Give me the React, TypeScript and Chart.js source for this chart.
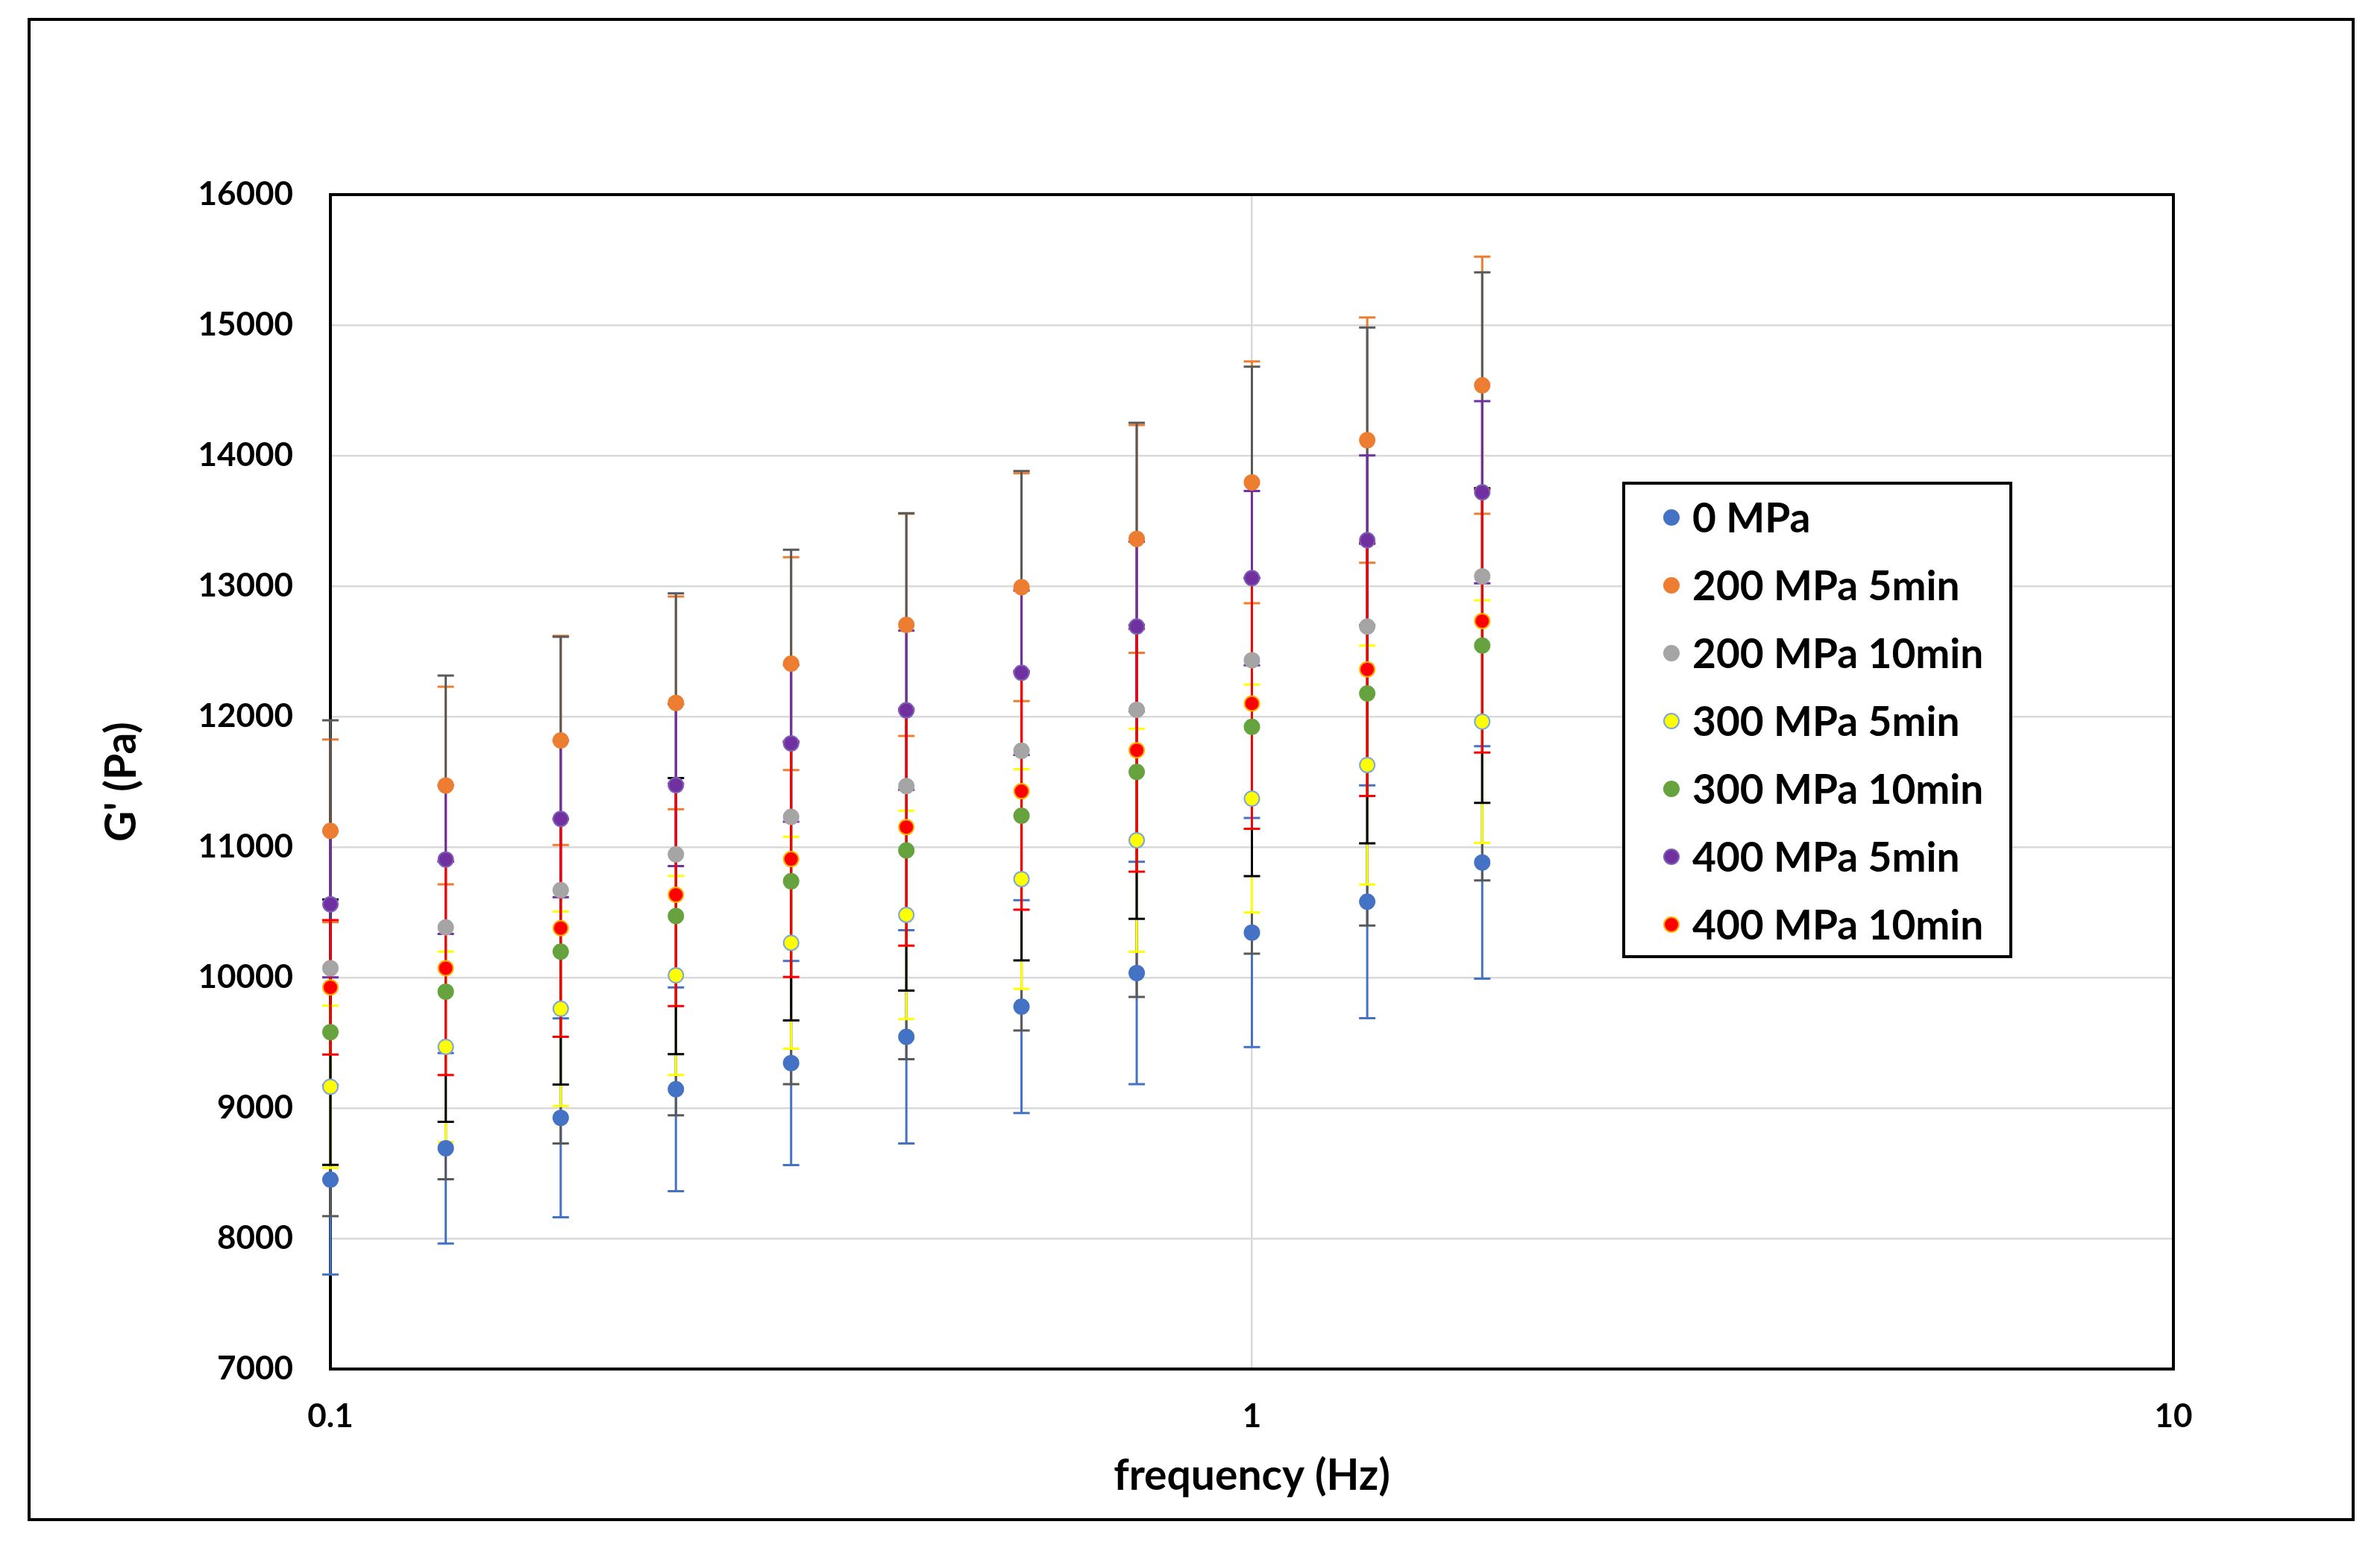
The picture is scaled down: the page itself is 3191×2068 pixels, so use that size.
import React, { useEffect, useRef } from "react";
import { Chart, registerables } from "chart.js";

Chart.register(...registerables);

const frequencies = [0.1, 0.1334, 0.1778, 0.2371, 0.3162, 0.4217, 0.5623, 0.7499, 1.0, 1.334, 1.778];

const seriesLabels = [
  "0 MPa",
  "200 MPa 5min",
  "200 MPa 10min",
  "300 MPa 5min",
  "300 MPa 10min",
  "400 MPa 5min",
  "400 MPa 10min",
];

const g0 = [8451, 8692, 8925, 9144, 9345, 9546, 9777, 10035, 10345, 10581, 10882];
const g0Err = [726, 730, 762, 781, 782, 817, 816, 852, 878, 892, 891];

const g200s5 = [11124, 11472, 11817, 12105, 12406, 12703, 12991, 13362, 13795, 14118, 14539];
const g200s5Err = [700, 757, 801, 815, 816, 851, 873, 873, 926, 940, 985];

const g200s10 = [10072, 10384, 10670, 10944, 11231, 11467, 11738, 12052, 12432, 12690, 13075];
const g200s10Err = [1900, 1930, 1941, 2000, 2048, 2092, 2144, 2200, 2249, 2292, 2330];

const g300s5 = [9163, 9469, 9761, 10017, 10266, 10480, 10755, 11052, 11371, 11629, 11961];
const g300s5Err = [621, 730, 745, 762, 812, 799, 842, 855, 873, 916, 930];

const g300s10 = [9582, 9892, 10199, 10471, 10738, 10974, 11240, 11576, 11921, 12177, 12544];
const g300s10Err = [1017, 997, 1019, 1058, 1066, 1074, 1109, 1126, 1144, 1149, 1206];

const g400s5 = [10562, 10905, 11216, 11474, 11795, 12048, 12336, 12690, 13061, 13351, 13719];
const g400s5Err = [560, 570, 600, 620, 600, 610, 630, 650, 668, 650, 698];

const g400s10 = [9925, 10072, 10379, 10634, 10908, 11153, 11428, 11742, 12100, 12362, 12732];
const g400s10Err = [515, 819, 833, 853, 904, 908, 908, 930, 960, 970, 1008];

const xTickValues = [0.1, 1, 10];

const seriesValues = [g0, g200s5, g200s10, g300s5, g300s10, g400s5, g400s10];
const seriesErrors = [g0Err, g200s5Err, g200s10Err, g300s5Err, g300s10Err, g400s5Err, g400s10Err];
const markerFill = ["#4472C4", "#ED7D31", "#A5A5A5", "#FFFF00", "#66A33F", "#7030A0", "#FF0000"];
const markerEdge = ["#4472C4", "#ED7D31", "#A5A5A5", "#7FA7D3", "#66A33F", "#7E5FB8", "#FFB000"];
const errorColors = ["#4472C4", "#ED7D31", "#595959", "#FFFF00", "#000000", "#7030A0", "#FF0000"];

const FONT = "Lato, 'Open Sans', sans-serif";

const borderPlugin = {
  id: "plotBorder",
  beforeDatasetsDraw(chart: any) {
    const { ctx, chartArea: ca } = chart;
    ctx.save();
    ctx.strokeStyle = "#000";
    ctx.lineWidth = 4;
    ctx.strokeRect(ca.left, ca.top, ca.right - ca.left, ca.bottom - ca.top);
    ctx.restore();
  },
};

const errorBarPlugin = {
  id: "errorBars",
  beforeDatasetsDraw(chart: any) {
    const { ctx } = chart;
    const xs = chart.scales.x;
    const ys = chart.scales.y;
    ctx.save();
    chart.data.datasets.forEach((ds: any, i: number) => {
      const errs = seriesErrors[i];
      ctx.strokeStyle = errorColors[i];
      ctx.lineWidth = 3;
      ds.data.forEach((pt: any, j: number) => {
        const px = xs.getPixelForValue(pt.x);
        const yt = ys.getPixelForValue(pt.y + errs[j]);
        const yb = ys.getPixelForValue(pt.y - errs[j]);
        const cap = 11;
        ctx.beginPath();
        ctx.moveTo(px, yt);
        ctx.lineTo(px, yb);
        ctx.moveTo(px - cap, yt);
        ctx.lineTo(px + cap, yt);
        ctx.moveTo(px - cap, yb);
        ctx.lineTo(px + cap, yb);
        ctx.stroke();
      });
    });
    ctx.restore();
  },
};

const legendPlugin = {
  id: "boxLegend",
  afterDraw(chart: any) {
    const { ctx, chartArea: ca } = chart;
    const left = ca.left + 1734;
    const top = ca.top + 387;
    const w = 519;
    const h = 635;
    ctx.save();
    ctx.fillStyle = "#fff";
    ctx.fillRect(left, top, w, h);
    ctx.strokeStyle = "#000";
    ctx.lineWidth = 4;
    ctx.strokeRect(left, top, w, h);
    chart.data.datasets.forEach((ds: any, i: number) => {
      const cy = top + 46 + i * 91;
      ctx.beginPath();
      ctx.arc(left + 64, cy, 10, 0, Math.PI * 2);
      ctx.fillStyle = ds.backgroundColor;
      ctx.fill();
      ctx.lineWidth = 2;
      ctx.strokeStyle = ds.borderColor;
      ctx.stroke();
      ctx.fillStyle = "#000";
      ctx.font = `bold 55px ${FONT}`;
      ctx.textBaseline = "middle";
      ctx.textAlign = "left";
      ctx.fillText(ds.label, left + 92, cy + 2);
    });
    ctx.restore();
  },
};

export default function App() {
  const canvasRef = useRef<HTMLCanvasElement | null>(null);

  useEffect(() => {
    if (!canvasRef.current) return;
    const datasets = seriesValues.map((vals, i) => ({
      label: seriesLabels[i],
      data: vals.map((v, j) => ({ x: frequencies[j], y: v })),
      backgroundColor: markerFill[i],
      borderColor: markerEdge[i],
      borderWidth: 2,
      pointRadius: 10,
      pointHoverRadius: 10,
      showLine: false,
      clip: false as any,
    }));

    const chart = new Chart(canvasRef.current, {
      type: "scatter",
      data: { datasets },
      options: {
        animation: false,
        responsive: false,
        devicePixelRatio: 1,
        layout: { padding: { left: 100, top: 261, right: 277, bottom: 0 } },
        plugins: { legend: { display: false }, tooltip: { enabled: false } },
        scales: {
          x: {
            type: "logarithmic",
            min: 0.1,
            max: 10,
            afterBuildTicks: (s: any) => {
              s.ticks = xTickValues.map((v) => ({ value: v }));
            },
            afterFit: (s: any) => {
              s.height = 232;
            },
            ticks: {
              color: "#000",
              font: { family: FONT, size: 44, weight: "bold" },
              padding: 37,
              maxRotation: 0,
              callback: (v: any) => String(v),
            },
            grid: { color: "#D9D9D9", lineWidth: 2.5, drawTicks: false },
            border: { display: false },
            title: {
              display: true,
              text: "frequency (Hz)",
              color: "#000",
              font: { family: FONT, size: 57, weight: "bold" },
              padding: { top: 0, bottom: 54 },
            },
          },
          y: {
            min: 7000,
            max: 16000,
            afterFit: (s: any) => {
              s.width = 343;
            },
            ticks: {
              stepSize: 1000,
              color: "#000",
              font: { family: FONT, size: 44, weight: "bold" },
              padding: 50,
              callback: (v: any) => String(v),
            },
            grid: { color: "#D9D9D9", lineWidth: 2.5, drawTicks: false },
            border: { display: false },
            title: {
              display: true,
              text: "G' (Pa)",
              color: "#000",
              font: { family: FONT, size: 57, weight: "bold" },
              padding: { top: 29, bottom: 0 },
            },
          },
        },
      } as any,
      plugins: [borderPlugin, errorBarPlugin, legendPlugin],
    });
    return () => chart.destroy();
  }, []);

  return (
    <div style={{ position: "absolute", left: 0, top: 0, width: 3191, height: 2068, background: "#fff" }}>
      <canvas
        ref={canvasRef}
        width={3191}
        height={2068}
        style={{ position: "absolute", left: 0, top: 0, width: 3191, height: 2068 }}
      />
      <div
        style={{
          position: "absolute",
          left: 37,
          top: 24,
          width: 3120,
          height: 2016,
          border: "4px solid #000",
          boxSizing: "border-box",
          pointerEvents: "none",
        }}
      />
    </div>
  );
}
